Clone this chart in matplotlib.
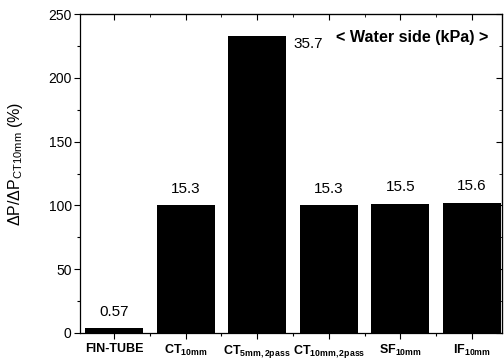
import numpy as np
import matplotlib
matplotlib.use("Agg")
from matplotlib import pyplot as plt
from matplotlib.ticker import MultipleLocator

# ======== data ========
categories = [r"FIN-TUBE", r"CT$_{\mathbf{10mm}}$", r"CT$_{\mathbf{5mm,2pass}}$",
              r"CT$_{\mathbf{10mm,2pass}}$", r"SF$_{\mathbf{10mm}}$", r"IF$_{\mathbf{10mm}}$"]
ratio_pct = [3.7, 100, 233, 100, 101, 102]          # dP / dP_CT10mm (%)
water_dp_kpa = ["0.57", "15.3", "35.7", "15.3", "15.5", "15.6"]
# ======================

plt.rcParams['font.family'] = ['Liberation Sans', 'DejaVu Sans']
plt.rcParams['mathtext.fontset'] = 'custom'
plt.rcParams['mathtext.rm'] = 'Liberation Sans'
plt.rcParams['mathtext.bf'] = 'Liberation Sans:bold'
plt.rcParams['mathtext.it'] = 'Liberation Sans:italic'

fig = plt.figure(figsize=(5.04, 3.62), dpi=100)
ax = fig.add_axes([80 / 504, 1 - 333 / 362, 422 / 504, 319 / 362])

x = np.arange(len(categories))
ax.bar(x, ratio_pct, width=0.81, color='black', zorder=2)

ax.set_xlim(-0.475, 5.42)
ax.set_ylim(0, 250)

# value labels (water side pressure drop, kPa)
for i, (v, s) in enumerate(zip(ratio_pct, water_dp_kpa)):
    if i == 2:
        ax.annotate(s, (i + 0.405, v), xytext=(5, -1), textcoords='offset points',
                    ha='left', va='top', fontsize=11)
    else:
        ax.annotate(s, (i, v), xytext=(0, 7), textcoords='offset points',
                    ha='center', va='bottom', fontsize=11)

ax.text(0.786, 0.925, "< Water side (kPa) >", transform=ax.transAxes,
        ha='center', va='center', fontsize=11.6, fontweight='bold')

# ticks
ax.set_xticks(x)
ax.set_xticklabels(categories, fontsize=9, fontweight='bold')
ax.xaxis.set_minor_locator(MultipleLocator(0.5))
ax.yaxis.set_major_locator(MultipleLocator(50))
ax.yaxis.set_minor_locator(MultipleLocator(25))
ax.tick_params(axis='both', which='major', direction='out', length=4, width=0.8)
ax.tick_params(axis='both', which='minor', direction='out', length=2, width=0.8)
ax.tick_params(axis='y', labelsize=10, pad=2)
ax.tick_params(axis='x', pad=3)

top = ax.secondary_xaxis('top')
top.set_xticks(x)
top.xaxis.set_minor_locator(MultipleLocator(0.5))
top.tick_params(which='major', direction='in', length=4, labeltop=False)
top.tick_params(which='minor', direction='in', length=2)
right = ax.secondary_yaxis('right')
right.yaxis.set_major_locator(MultipleLocator(50))
right.yaxis.set_minor_locator(MultipleLocator(25))
right.tick_params(which='major', direction='in', length=4, labelright=False)
right.tick_params(which='minor', direction='in', length=2)

for sp in ax.spines.values():
    sp.set_linewidth(0.9)

ax.set_ylabel(r"$\Delta$P/$\Delta$P$_{\mathrm{CT10mm}}$ (%)", fontsize=11.5)
ax.yaxis.set_label_coords(-0.13, 0.53)

fig.savefig("out.png", dpi=100)
